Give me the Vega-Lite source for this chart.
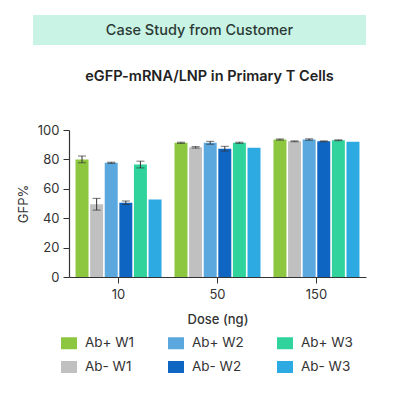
{
  "$schema": "https://vega.github.io/schema/vega-lite/v6.json",
  "background": "white",
  "padding": {"left": 17, "top": 15, "right": 5, "bottom": 5},
  "config": {
    "font": "Inter",
    "view": {"stroke": null},
    "axis": {"labelFont": "Inter", "titleFont": "Inter", "labelColor": "#333", "titleColor": "#333", "domainColor": "#333", "tickColor": "#333", "labelFontSize": 13, "titleFontSize": 13, "titleFontWeight": 500, "grid": false},
    "axisY": {"labelOverlap": false, "labelFlush": false, "tickSize": 6, "labelPadding": 4, "titlePadding": 7, "titleFontWeight": 400, "domainWidth": 1.2, "grid": false},
    "legend": {"labelFont": "Inter", "labelFontSize": 13.5, "labelColor": "#333"}
  },
  "spacing": 23,
  "vconcat": [
    {
      "width": 333,
      "height": 30,
      "view": {"fill": "#c9f3e4", "stroke": null},
      "data": {"values": [{"label": "Case Study from Customer"}]},
      "mark": {"type": "text", "fontSize": 14.5, "fontWeight": 500, "color": "#2b3a35", "dy": 1},
      "encoding": {
        "text": {"field": "label"}
      }
    },
    {
      "bounds": "flush",
      "spacing": 0,
      "hconcat": [
        {
          "width": 36,
          "height": 147,
          "data": {"values": []},
          "mark": {"type": "point"},
          "encoding": {}
        },
        {
          "width": 297,
          "height": 147,
          "title": {"text": "eGFP-mRNA/LNP in Primary T Cells", "fontSize": 14.5, "fontWeight": 600, "color": "#222", "font": "Inter", "dx": -8, "offset": 40},
          "data": {"values": [
            {"dose": "10", "group": "Ab+ W1", "value": 80.0, "lo": 77.7, "hi": 82.3},
            {"dose": "10", "group": "Ab- W1", "value": 49.5, "lo": 45.5, "hi": 53.5},
            {"dose": "10", "group": "Ab+ W2", "value": 77.7, "lo": 77.3, "hi": 78.1},
            {"dose": "10", "group": "Ab- W2", "value": 50.5, "lo": 49.3, "hi": 51.7},
            {"dose": "10", "group": "Ab+ W3", "value": 76.5, "lo": 74.2, "hi": 78.8},
            {"dose": "10", "group": "Ab- W3", "value": 52.7, "lo": null, "hi": null},
            {"dose": "50", "group": "Ab+ W1", "value": 91.3, "lo": 90.9, "hi": 91.7},
            {"dose": "50", "group": "Ab- W1", "value": 88.2, "lo": 87.7, "hi": 88.7},
            {"dose": "50", "group": "Ab+ W2", "value": 91.3, "lo": 90.3, "hi": 92.3},
            {"dose": "50", "group": "Ab- W2", "value": 87.3, "lo": 85.7, "hi": 88.9},
            {"dose": "50", "group": "Ab+ W3", "value": 91.3, "lo": 90.9, "hi": 91.7},
            {"dose": "50", "group": "Ab- W3", "value": 88.0, "lo": null, "hi": null},
            {"dose": "150", "group": "Ab+ W1", "value": 93.5, "lo": 93.1, "hi": 93.9},
            {"dose": "150", "group": "Ab- W1", "value": 92.3, "lo": 92.0, "hi": 92.6},
            {"dose": "150", "group": "Ab+ W2", "value": 93.5, "lo": 93.0, "hi": 94.0},
            {"dose": "150", "group": "Ab- W2", "value": 92.3, "lo": 92.0, "hi": 92.6},
            {"dose": "150", "group": "Ab+ W3", "value": 93.0, "lo": 92.7, "hi": 93.3},
            {"dose": "150", "group": "Ab- W3", "value": 92.0, "lo": null, "hi": null}
          ]},
          "encoding": {
            "x": {
              "field": "dose", "type": "ordinal", "sort": ["10", "50", "150"],
              "scale": {"paddingInner": 0.131, "paddingOuter": 0.066},
              "axis": {"title": "Dose (ng)", "labelAngle": 0, "tickSize": 6, "labelPadding": 5, "titlePadding": 12, "domainWidth": 1.2}
            },
            "xOffset": {
              "field": "group", "type": "nominal",
              "sort": ["Ab+ W1", "Ab- W1", "Ab+ W2", "Ab- W2", "Ab+ W3", "Ab- W3"],
              "scale": {"paddingInner": 0.11, "paddingOuter": 0}
            }
          },
          "layer": [
            {
              "mark": {"type": "bar"},
              "encoding": {
                "y": {
                  "field": "value", "type": "quantitative",
                  "scale": {"domain": [0, 100], "nice": false},
                  "axis": {"title": "GFP%", "values": [0, 20, 40, 60, 80, 100]}
                },
                "color": {
                  "field": "group", "type": "nominal",
                  "scale": {
                    "domain": ["Ab+ W1", "Ab+ W2", "Ab+ W3", "Ab- W1", "Ab- W2", "Ab- W3"],
                    "range": ["#8dc63f", "#5ba8df", "#30d39c", "#c0c0c0", "#0e66c2", "#2eaae3"]
                  },
                  "legend": {
                    "title": null, "orient": "none", "legendX": 28, "legendY": 320,
                    "columns": 3, "direction": "horizontal", "columnPadding": 33, "rowPadding": 9,
                    "padding": 0, "labelOffset": 8,
                    "symbolType": "M-1,-0.75H1V0.75H-1Z", "symbolSize": 256, "symbolStrokeWidth": 0, "symbolOpacity": 1
                  }
                }
              }
            },
            {
              "mark": {"type": "rule", "color": "#333", "strokeWidth": 1},
              "encoding": {
                "y": {"field": "lo", "type": "quantitative", "axis": {"title": "GFP%", "values": [0, 20, 40, 60, 80, 100]}},
                "y2": {"field": "hi"}
              }
            },
            {
              "mark": {"type": "tick", "color": "#333", "thickness": 1, "size": 8},
              "encoding": {"y": {"field": "lo", "type": "quantitative", "axis": {"title": "GFP%", "values": [0, 20, 40, 60, 80, 100]}}}
            },
            {
              "mark": {"type": "tick", "color": "#333", "thickness": 1, "size": 8},
              "encoding": {"y": {"field": "hi", "type": "quantitative", "axis": {"title": "GFP%", "values": [0, 20, 40, 60, 80, 100]}}}
            }
          ]
        }
      ]
    }
  ]
}
